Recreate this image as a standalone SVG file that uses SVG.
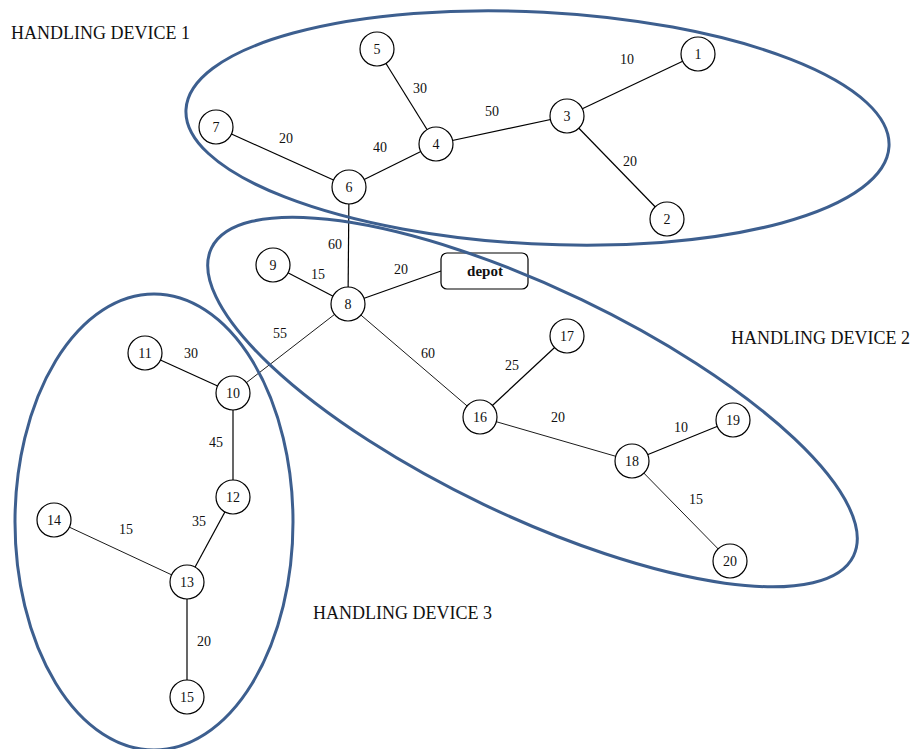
<svg xmlns="http://www.w3.org/2000/svg" width="913" height="749" viewBox="0 0 913 749">
<style>
.n circle{fill:#fff;stroke:#000;stroke-width:1.2}
.n text,.lbl{font-family:"Liberation Serif","Times New Roman",serif;font-size:14px;fill:#111;text-anchor:middle;dominant-baseline:central}
.e line{stroke:#000;stroke-width:1.2}
.e line.t{stroke-width:0.9}
.grp{fill:none;stroke:#3d5f8f;stroke-width:3}
.title{font-family:"Liberation Serif","Times New Roman",serif;font-size:18px;fill:#111;dominant-baseline:central}
.depot rect{fill:#fff;stroke:#000;stroke-width:1.2}
.depot text{font-family:"Liberation Serif","Times New Roman",serif;font-size:15px;font-weight:bold;fill:#111;text-anchor:middle;dominant-baseline:central}
</style>
<rect width="913" height="749" fill="#fff"/>
<g id="titles">
<text class="title" x="11" y="33">HANDLING DEVICE 1</text>
<text class="title" x="731" y="338">HANDLING DEVICE 2</text>
<text class="title" x="313" y="613">HANDLING DEVICE 3</text>
</g>
<g id="connectors" class="e">
<line x1="567" y1="116" x2="698" y2="54"/>
<line x1="567" y1="116" x2="667" y2="219"/>
<line x1="436" y1="144" x2="567" y2="116"/>
<line x1="436" y1="144" x2="377" y2="49"/>
<line x1="436" y1="144" x2="349" y2="187"/>
<line x1="216" y1="127" x2="349" y2="187"/>
<line x1="349" y1="187" x2="348" y2="304"/>
<line x1="273" y1="265" x2="348" y2="304"/>
<line x1="348" y1="304" x2="441" y2="271"/>
<line class="t" x1="348" y1="304" x2="233" y2="393"/>
<line class="t" x1="348" y1="304" x2="480" y2="417"/>
<line x1="480" y1="417" x2="567" y2="336"/>
<line class="t" x1="480" y1="417" x2="632" y2="461"/>
<line x1="632" y1="461" x2="733" y2="420"/>
<line class="t" x1="632" y1="461" x2="730" y2="561"/>
<line x1="145" y1="353" x2="233" y2="393"/>
<line x1="233" y1="393" x2="233" y2="497"/>
<line x1="233" y1="497" x2="187" y2="582"/>
<line class="t" x1="54" y1="520" x2="187" y2="582"/>
<line x1="187" y1="582" x2="187" y2="697"/>
</g>
<g id="edge-labels">
<text class="lbl" x="627" y="59">10</text>
<text class="lbl" x="630" y="161">20</text>
<text class="lbl" x="492" y="111">50</text>
<text class="lbl" x="420" y="88">30</text>
<text class="lbl" x="380" y="147">40</text>
<text class="lbl" x="286" y="138">20</text>
<text class="lbl" x="335" y="244">60</text>
<text class="lbl" x="318" y="274">15</text>
<text class="lbl" x="401" y="269">20</text>
<text class="lbl" x="280" y="333">55</text>
<text class="lbl" x="428" y="353">60</text>
<text class="lbl" x="512" y="365">25</text>
<text class="lbl" x="558" y="417">20</text>
<text class="lbl" x="681" y="427">10</text>
<text class="lbl" x="696" y="499">15</text>
<text class="lbl" x="191" y="353">30</text>
<text class="lbl" x="216" y="442">45</text>
<text class="lbl" x="199" y="521">35</text>
<text class="lbl" x="126" y="529">15</text>
<text class="lbl" x="204" y="641">20</text>
</g>
<g id="node-1" class="n"><circle cx="698" cy="54" r="17"/><text x="698" y="54">1</text></g>
<g id="node-2" class="n"><circle cx="667" cy="219" r="17"/><text x="667" y="219">2</text></g>
<g id="node-3" class="n"><circle cx="567" cy="116" r="17"/><text x="567" y="116">3</text></g>
<g id="node-4" class="n"><circle cx="436" cy="144" r="17"/><text x="436" y="144">4</text></g>
<g id="node-5" class="n"><circle cx="377" cy="49" r="17"/><text x="377" y="49">5</text></g>
<g id="node-6" class="n"><circle cx="349" cy="187" r="17"/><text x="349" y="187">6</text></g>
<g id="node-7" class="n"><circle cx="216" cy="127" r="17"/><text x="216" y="127">7</text></g>
<g id="node-8" class="n"><circle cx="348" cy="304" r="17"/><text x="348" y="304">8</text></g>
<g id="node-9" class="n"><circle cx="273" cy="265" r="17"/><text x="273" y="265">9</text></g>
<g id="depot" class="depot"><rect x="441" y="253" width="87" height="36" rx="6"/><text x="485" y="271">depot</text></g>
<g id="node-10" class="n"><circle cx="233" cy="393" r="17"/><text x="233" y="393">10</text></g>
<g id="node-11" class="n"><circle cx="145" cy="353" r="17"/><text x="145" y="353">11</text></g>
<g id="node-12" class="n"><circle cx="233" cy="497" r="17"/><text x="233" y="497">12</text></g>
<g id="node-13" class="n"><circle cx="187" cy="582" r="17"/><text x="187" y="582">13</text></g>
<g id="node-14" class="n"><circle cx="54" cy="520" r="17"/><text x="54" y="520">14</text></g>
<g id="node-15" class="n"><circle cx="187" cy="697" r="17"/><text x="187" y="697">15</text></g>
<g id="node-16" class="n"><circle cx="480" cy="417" r="17"/><text x="480" y="417">16</text></g>
<g id="node-17" class="n"><circle cx="567" cy="336" r="17"/><text x="567" y="336">17</text></g>
<g id="node-18" class="n"><circle cx="632" cy="461" r="17"/><text x="632" y="461">18</text></g>
<g id="node-19" class="n"><circle cx="733" cy="420" r="17"/><text x="733" y="420">19</text></g>
<g id="node-20" class="n"><circle cx="730" cy="561" r="17"/><text x="730" y="561">20</text></g>
<g id="groups">
<ellipse class="grp" cx="537.5" cy="128" rx="352" ry="116" transform="rotate(3 537.5 128)"/>
<ellipse class="grp" cx="532.5" cy="402" rx="356" ry="113.5" transform="rotate(25.6 532.5 402)"/>
<ellipse class="grp" cx="154" cy="522" rx="139" ry="228"/>
</g>
</svg>
